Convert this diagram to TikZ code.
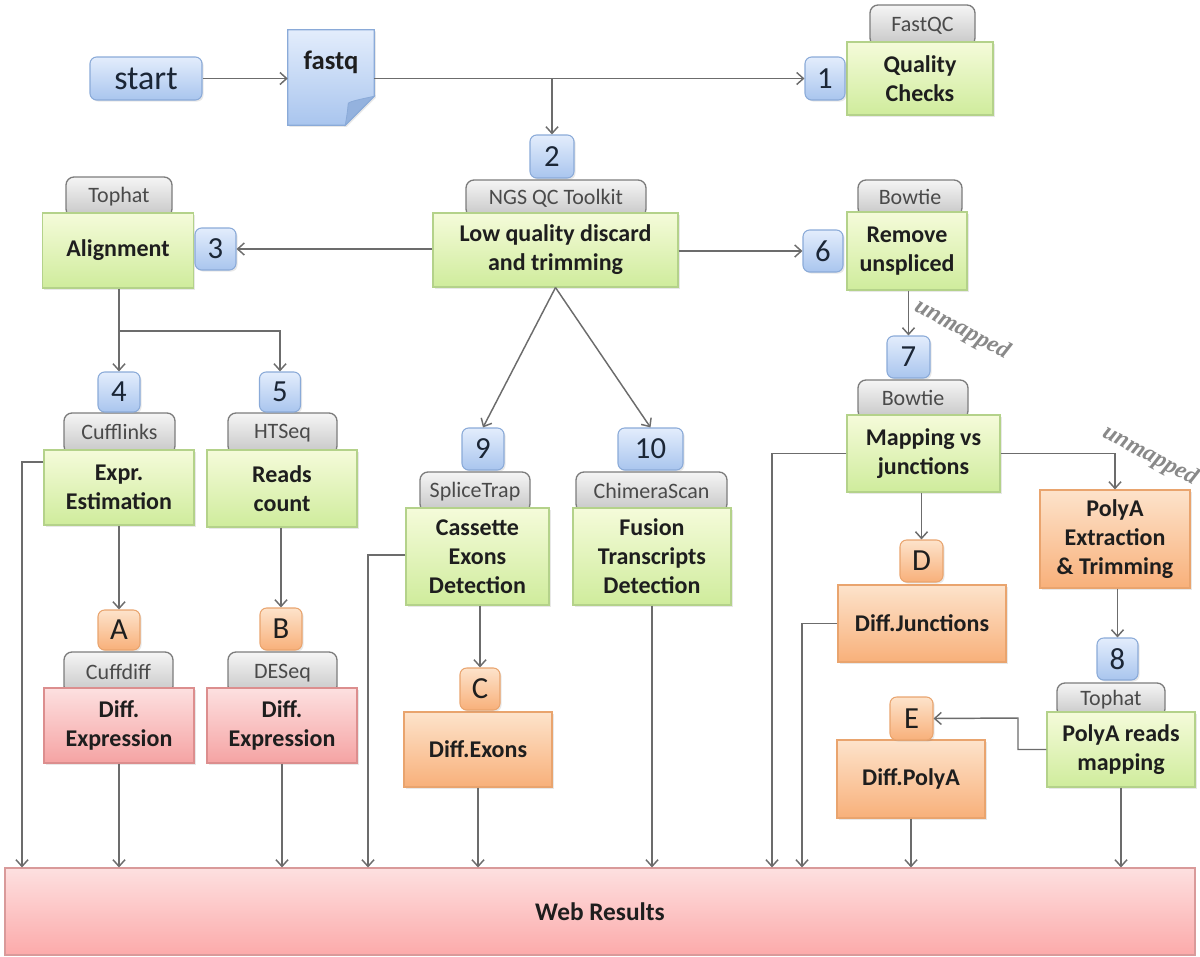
\documentclass[tikz,border=0pt]{standalone}
\usepackage{fontspec}
\setmainfont{Carlito}
\newfontfamily\unmfont{Liberation Serif}
\usetikzlibrary{arrows.meta,calc,shadows}
\definecolor{numtop}{HTML}{E3EDFC}
\definecolor{numbot}{HTML}{A9C5EE}
\definecolor{numborder}{HTML}{8AAAD8}
\definecolor{numtext}{HTML}{1B2636}
\definecolor{greentop}{HTML}{F5FBDA}
\definecolor{greenbot}{HTML}{CFEC9C}
\definecolor{greenborder}{HTML}{B4D28A}
\definecolor{tabtop}{HTML}{F5F5F5}
\definecolor{tabbot}{HTML}{C6C6C6}
\definecolor{tabborder}{HTML}{7C7C7C}
\definecolor{tabtext}{HTML}{4A4A4A}
\definecolor{orangetop}{HTML}{FDE3CB}
\definecolor{orangebot}{HTML}{F8B07A}
\definecolor{orangeborder}{HTML}{E9A46E}
\definecolor{redtop}{HTML}{FDE0E0}
\definecolor{redbot}{HTML}{F5A3A3}
\definecolor{redborder}{HTML}{DC8E8E}
\definecolor{webtop}{HTML}{FDE0E0}
\definecolor{webbot}{HTML}{FCAAAA}
\definecolor{webborder}{HTML}{D99A9A}
\definecolor{linec}{HTML}{6C6C6C}
\definecolor{foldc}{HTML}{94B2DE}
\definecolor{labeltext}{HTML}{1E1E1E}
\tikzset{
  sz/.style n args={2}{minimum width=#1*0.75pt, minimum height=#2*0.75pt},
  shad/.style={drop shadow={opacity=0.18, shadow xshift=1.2pt, shadow yshift=-1.2pt}},
  conn/.style={draw=linec, line width=1.1pt, -{Straight Barb[length=5pt,width=9pt,line width=1.1pt]}},
  numbox/.style={rectangle, rounded corners=5pt, draw=numborder, line width=0.8pt,
    top color=numtop, bottom color=numbot, inner sep=0pt, shad,
    font=\fontsize{23}{24}\selectfont, text=numtext},
  letbox/.style={rectangle, rounded corners=5pt, draw=orangeborder, line width=0.8pt,
    top color=orangetop, bottom color=orangebot, inner sep=0pt, shad,
    font=\fontsize{23}{24}\selectfont, text=labeltext},
  greenbox/.style={rectangle, draw=greenborder, line width=0.8pt,
    top color=greentop, bottom color=greenbot, inner sep=0pt, shad, align=center,
    font=\bfseries\fontsize{18}{21.75}\selectfont, text=labeltext},
  orangebox/.style={rectangle, draw=orangeborder, line width=0.8pt,
    top color=orangetop, bottom color=orangebot, inner sep=0pt, shad, align=center,
    font=\bfseries\fontsize{18}{21.75}\selectfont, text=labeltext},
  redbox/.style={rectangle, draw=redborder, line width=0.8pt,
    top color=redtop, bottom color=redbot, inner sep=0pt, shad, align=center,
    font=\bfseries\fontsize{18}{21.75}\selectfont, text=labeltext},
  tabbox/.style={rectangle, rounded corners=6pt, draw=tabborder, line width=1pt,
    top color=tabtop, bottom color=tabbot, inner sep=0pt,
    font=\fontsize{16.5}{18}\selectfont, text=tabtext},
  unm/.style={font=\unmfont\itshape\bfseries\fontsize{18}{20}\selectfont, text=linec!80},
}
\begin{document}
\begin{tikzpicture}[x=0.75pt,y=-0.75pt]
\useasboundingbox (0,0) rectangle (1200,957);

% start and fastq
\node[numbox, sz={112}{43}, font=\fontsize{25.5}{27}\selectfont] (start) at (146,78.5) {start};
\node[sz={86}{95}, inner sep=0pt] (fastq) at (331,77.5) {};
\fill[foldc!40, shad] (fastq.north west) -- (fastq.north east) -- ($(fastq.south east)+(0,-29)$) -- ($(fastq.south east)+(-29,0)$) -- (fastq.south west) -- cycle;
\shade[top color=numtop, bottom color=numbot, draw=numborder, line width=0.8pt]
  (fastq.north west) -- (fastq.north east) -- ($(fastq.south east)+(0,-29)$) -- ($(fastq.south east)+(-29,0)$) -- (fastq.south west) -- cycle;
\fill[foldc, draw=numborder, line width=0.6pt] ($(fastq.south east)+(0,-29)$) .. controls ($(fastq.south east)+(-14,-26)$) and ($(fastq.south east)+(-24,-24)$) .. ($(fastq.south east)+(-26,-22)$) .. controls ($(fastq.south east)+(-27,-12)$) .. ($(fastq.south east)+(-29,0)$) -- cycle;
\node[font=\bfseries\fontsize{20}{22}\selectfont, text=labeltext] (fastqtxt) at ($(fastq.north)+(0,33)$) {fastq};

% tabs (drawn first)
\node[tabbox, sz={105}{41}] (tfastqc) at (922.5,25.5) {\raisebox{2pt}{FastQC}};
\node[tabbox, sz={180}{37}] (tngs) at (556,198.5) {\raisebox{2pt}{NGS QC Toolkit}};
\node[tabbox, sz={106}{40}] (ttophat) at (119,197) {\raisebox{2pt}{Tophat}};
\node[tabbox, sz={104}{36}] (tbowtie) at (910,198) {\raisebox{2pt}{Bowtie}};
\node[tabbox, sz={111}{41}] (tcuff) at (119.5,433.5) {\raisebox{2pt}{Cufflinks}};
\node[tabbox, sz={109}{41}] (thtseq) at (282.5,433.5) {\raisebox{2pt}{HTSeq}};
\node[tabbox, sz={109}{42}] (tcuffdiff) at (118.5,673) {\raisebox{2pt}{Cuffdiff}};
\node[tabbox, sz={109}{42}] (tdeseq) at (282.5,673) {\raisebox{2pt}{DESeq}};
\node[tabbox, sz={110}{40}] (tsplice) at (475,492) {\raisebox{2pt}{SpliceTrap}};
\node[tabbox, sz={151}{40}] (tchim) at (651.5,492) {\raisebox{2pt}{ChimeraScan}};
\node[tabbox, sz={110}{39}] (tbowtie2) at (913,399.5) {\raisebox{2pt}{Bowtie}};
\node[tabbox, sz={108}{34}] (ttophat2) at (1111,700) {\raisebox{2pt}{Tophat}};

% main boxes
\node[greenbox, sz={146}{73}] (qc) at (920,78.5) {Quality\\Checks};
\node[greenbox, sz={245}{74}] (lq) at (555.5,250) {Low quality discard\\and trimming};
\node[greenbox, sz={151}{75}] (align) at (118,250.5) {Alignment};
\node[greenbox, sz={120}{78}] (ru) at (907,251) {Remove\\unspliced};
\node[greenbox, sz={150}{75}] (expr) at (119,487.5) {Expr.\\Estimation};
\node[greenbox, sz={150}{77}] (reads) at (282,488.5) {Reads\\count};
\node[redbox, sz={150}{75}] (de1) at (119,725.5) {Diff.\\Expression};
\node[redbox, sz={150}{75}] (de2) at (282,725.5) {Diff.\\Expression};
\node[greenbox, sz={143}{97}] (cass) at (477.5,556.5) {Cassette\\Exons\\Detection};
\node[greenbox, sz={158}{97}] (fusion) at (652,556.5) {Fusion\\Transcripts\\Detection};
\node[orangebox, sz={148}{75}] (dexons) at (478,749.5) {Diff.Exons};
\node[greenbox, sz={153}{77}] (map) at (923.5,453.5) {Mapping vs\\junctions};
\node[orangebox, sz={150}{98}] (polya) at (1115,539) {PolyA\\Extraction\\\& Trimming};
\node[orangebox, sz={168}{77}] (dj) at (922,623.5) {Diff.Junctions};
\node[greenbox, sz={148}{75}] (prm) at (1121,749.5) {PolyA reads\\mapping};
\node[orangebox, sz={148}{78}] (dpolya) at (911,779) {Diff.PolyA};
\node[rectangle, draw=webborder, line width=0.8pt, top color=webtop, bottom color=webbot,
  sz={1190}{87}, inner sep=0pt, font=\bfseries\fontsize{19}{21}\selectfont, text=labeltext] (wr) at (600,911.5) {Web Results};

% number boxes
\node[numbox, sz={40}{43}] (n1) at (825,78.5) {1};
\node[numbox, sz={44}{43}] (n2) at (552,156.5) {2};
\node[numbox, sz={41}{42}] (n3) at (215.5,249) {3};
\node[numbox, sz={42}{40}] (n4) at (119,392) {4};
\node[numbox, sz={41}{40}] (n5) at (280,392) {5};
\node[numbox, sz={40}{42}] (n6) at (823,251) {6};
\node[numbox, sz={43}{42}] (n7) at (908.5,357) {7};
\node[numbox, sz={41}{42}] (n8) at (1117.5,659) {8};
\node[numbox, sz={42}{42}] (n9) at (483,449) {9};
\node[numbox, sz={65}{42}] (n10) at (650.5,449) {10};
\node[letbox, sz={42}{40}] (nA) at (119,630) {A};
\node[letbox, sz={42}{42}] (nB) at (281,629) {B};
\node[letbox, sz={40}{42}] (nC) at (480,689) {C};
\node[letbox, sz={43}{42}] (nD) at (921.5,561) {D};
\node[letbox, sz={43}{43}] (nE) at (911.5,718.5) {E};

% labels
\node[unm, rotate=-28] (um1) at (962,330) {unmapped};
\node[unm, rotate=-28] (um2) at (1150,456) {unmapped};

% helper coordinates
\coordinate (split) at (119,331);
\coordinate (e22) at (22,462);
\coordinate (c368) at (368,555);
\coordinate (m772) at (772,453);
\coordinate (d802) at (802,622);
\coordinate (ebend) at (1018,718);

% connectors
\draw[conn] (start.east) -- (start.east -| fastq.west);
\draw[conn] (fastq.east |- n1.west) -- (n1.west);
\draw[conn] (n2.north |- n1.west) -- (n2.north);
\draw[conn] (lq.west |- n3.east) -- (n3.east);
\draw[conn] (lq.east |- n6.west) -- (n6.west);
\draw[conn] (align.south -| n4.north) -- (n4.north);
\draw[conn] (split) -| (n5.north);
\draw[conn] (lq.south) -- (n9.north);
\draw[conn] (lq.south) -- (n10.north);
\draw[conn] (expr.south) -- (nA.north);
\draw[conn] (reads.south -| nB.north) -- (nB.north);
\draw[conn] (cass.south -| nC.north) -- (nC.north);
\draw[conn] (ru.south -| n7.north) -- (n7.north);
\draw[conn] (map.south -| nD.north) -- (nD.north);
\draw[conn] (map.east) -| (polya.north);
\draw[conn] (polya.south -| n8.north) -- (n8.north);
\draw[conn] (prm.west) -| (ebend) -- (nE.east);

% to web results
\draw[conn] (e22 -| expr.west) -- (e22) -- (e22 |- wr.north);
\draw[conn] (de1.south) -- (de1.south |- wr.north);
\draw[conn] (de2.south) -- (de2.south |- wr.north);
\draw[conn] (c368 -| cass.west) -- (c368) -- (c368 |- wr.north);
\draw[conn] (dexons.south) -- (dexons.south |- wr.north);
\draw[conn] (fusion.south) -- (fusion.south |- wr.north);
\draw[conn] (map.west) -| (m772 |- wr.north);
\draw[conn] (dj.west) -| (d802 |- wr.north);
\draw[conn] (dpolya.south) -- (dpolya.south |- wr.north);
\draw[conn] (prm.south) -- (prm.south |- wr.north);
\end{tikzpicture}
\end{document}
